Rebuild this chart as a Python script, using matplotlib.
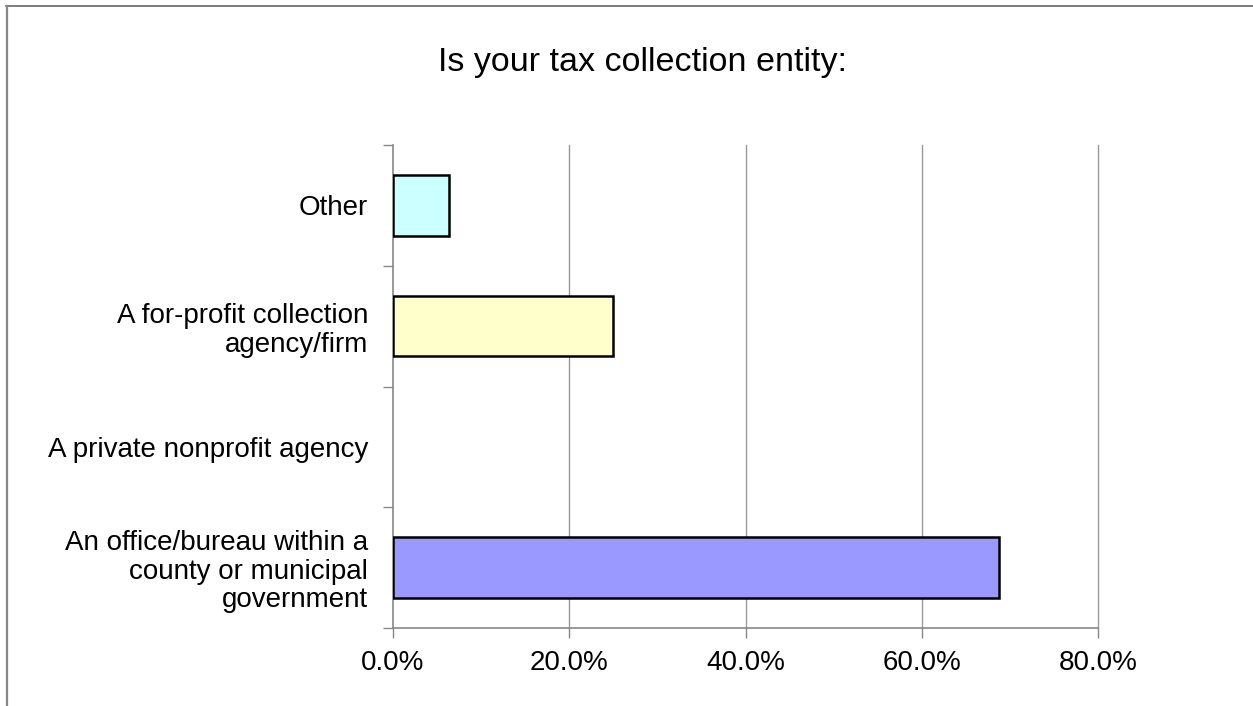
import numpy as np
import matplotlib.pyplot as plt
from matplotlib.lines import Line2D
from matplotlib.ticker import FuncFormatter

plt.rcParams['font.family'] = ['Liberation Sans', 'DejaVu Sans']

categories = ['An office/bureau within a\ncounty or municipal\ngovernment',
              'A private nonprofit agency',
              'A for-profit collection\nagency/firm',
              'Other']
values = [68.8, 0.0, 25.0, 6.3]
colors = ['#9999FF', '#FFFFFF', '#FFFFCC', '#CCFFFF']
xticks = [0, 20, 40, 60, 80]

fig = plt.figure(figsize=(12.53, 7.06), dpi=100)
ax = fig.add_axes([393 / 1253, 1 - 628 / 706, (1098 - 393) / 1253, (628 - 145) / 706])

y = np.arange(len(categories))
for i, v in enumerate(values):
    if v > 0:
        ax.barh(y[i], v, height=0.5, color=colors[i], edgecolor='black', linewidth=1.8, zorder=3)

ax.set_xlim(0, 80)
ax.set_ylim(-0.5, len(categories) - 0.5)
ax.set_xticks(xticks)
ax.xaxis.set_major_formatter(FuncFormatter(lambda v, p: f'{v:.1f}%'))
for gx in xticks[1:]:
    ax.axvline(gx, color='#999999', linewidth=1.0, zorder=0, clip_on=False)

ax.set_yticks(np.arange(-0.5, len(categories), 1.0))
ax.set_yticklabels([])
ax.set_yticks(y, minor=True)
ax.set_yticklabels(categories, minor=True, fontsize=20, ha='right',
                   multialignment='right', linespacing=1.12)
ax.tick_params(axis='y', which='minor', length=0, pad=18)
ax.tick_params(axis='y', which='major', length=7, color='#888888', width=1)
ax.tick_params(axis='x', length=7, color='#888888', width=1, labelsize=20, pad=9)

for s in ['top', 'right']:
    ax.spines[s].set_visible(False)
for s in ['left', 'bottom']:
    ax.spines[s].set_color('#888888')
    ax.spines[s].set_linewidth(1.2)

fig.text(642 / 1253, 1 - 63 / 706, 'Is your tax collection entity:', fontsize=24.5,
         ha='center', va='center')

# chart border (only top and left visible)
fig.add_artist(Line2D([6 / 1253, 1], [1 - 6 / 706, 1 - 6 / 706], transform=fig.transFigure,
                      color='#666666', linewidth=1.2))
fig.add_artist(Line2D([6.5 / 1253, 6.5 / 1253], [0, 1 - 6 / 706], transform=fig.transFigure,
                      color='#888888', linewidth=1.6))

fig.savefig('out.png', dpi=100)
